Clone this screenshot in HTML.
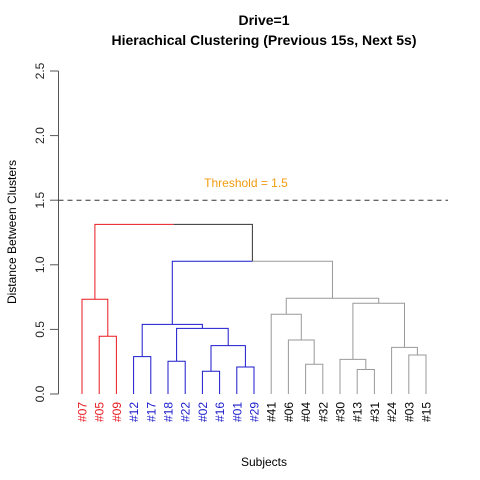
<!DOCTYPE html>
<html><head><meta charset="utf-8"><style>
body{margin:0;background:#fff}
svg{display:block;font-family:"Liberation Sans",Arial,sans-serif}
</style></head><body>
<svg id="chart" width="480" height="480" viewBox="0 0 480 480">
<text x="264" y="25" text-anchor="middle" font-size="14" font-weight="bold">Drive=1</text>
<text x="264" y="45" text-anchor="middle" font-size="14" font-weight="bold">Hierachical Clustering (Previous 15s, Next 5s)</text>
<text x="264" y="466" text-anchor="middle" font-size="12">Subjects</text>
<text transform="translate(16,232) rotate(-90)" text-anchor="middle" font-size="12">Distance Between Clusters</text>
<g id="yaxis"></g>
<g id="tree"></g>
<g id="labels"></g>
<g id="thresh"></g>
</svg>
<script>
const leaves = ["#07","#05","#09","#12","#17","#18","#22","#02","#16","#01","#29","#41","#06","#04","#32","#30","#13","#31","#24","#03","#15"];
const leafCluster = [0,0,0,1,1,1,1,1,1,1,1,2,2,2,2,2,2,2,2,2,2];
const clusterColors = ["#e8191f","#1a1acc","#999999"];
// merges: negative = leaf index (-(i+1)), positive = prior merge number (1-based)
const mergeLeft  = [-2,-1,-4,-6,-8,-10,5,4,3,-14,-13,-12,-17,-16,-20,-19,14,12,9,2];
const mergeRight = [-3, 1,-5,-7,-9,-11,6,7,8,-15, 10, 11,-18, 13,-21, 15,16,17,18,19];
const mergeHeights=[0.447,0.733,0.289,0.253,0.176,0.209,0.374,0.508,0.539,0.230,0.418,0.617,0.190,0.268,0.302,0.361,0.702,0.741,1.027,1.313];
const yTicks=[0,0.5,1,1.5,2,2.5];
const threshold=1.5;

const NS="http://www.w3.org/2000/svg";
const x0=82, dx=17.2, yBase=394, yPer=129.2;
const xS=i=>x0+i*dx, yS=v=>yBase-v*yPer;
function mk(tag,attrs,parent){const e=document.createElementNS(NS,tag);for(const k in attrs)e.setAttribute(k,attrs[k]);parent.appendChild(e);return e;}

const yax=document.getElementById('yaxis');
const al=mk('line',{x1:58.5,x2:58.5,y1:yS(0),y2:yS(2.5),stroke:'#555'},yax);


yTicks.forEach(t=>{
  const tk=mk('line',{x1:50,x2:58.5,y1:yS(t),y2:yS(t),stroke:'#555'},yax);
  
  
  const tx=mk('text',{transform:`translate(44,${yS(t)}) rotate(-90)`,'text-anchor':'middle','font-size':12,fill:'#222'},yax);
  tx.textContent=t.toFixed(1);
  
  
});

const nodes=[];
function info(ref){
  if(ref<0){const i=-ref-1;return {x:xS(i),h:0,cl:leafCluster[i]};}
  return nodes[ref-1];
}
const tree=document.getElementById('tree');
mergeHeights.forEach((h,m)=>{
  const L=info(mergeLeft[m]),R=info(mergeRight[m]);
  const mid=(L.x+R.x)/2;
  const cl=(L.cl===R.cl)?L.cl:-1;
  nodes.push({x:mid,h:h,cl:cl});
  [[L,L.x],[R,R.x]].forEach(([c,cx])=>{
    const col=c.cl>=0?clusterColors[c.cl]:'#333';
    const p=mk('polyline',{points:`${cx},${yS(c.h)} ${cx},${yS(h)} ${mid},${yS(h)}`,fill:'none',stroke:col,'stroke-width':1},tree);
    
    
  });
});

const lab=document.getElementById('labels');
leaves.forEach((l,i)=>{
  const t=mk('text',{transform:`translate(${xS(i)+4.5},402) rotate(-90)`,'text-anchor':'end','font-size':12,fill:clusterColors[leafCluster[i]]==='#999999'?'#000':clusterColors[leafCluster[i]]},lab);
  t.textContent=l;
  
  
});

const th=document.getElementById('thresh');
const tl=mk('line',{x1:58.5,x2:448,y1:yS(threshold),y2:yS(threshold),stroke:'#333','stroke-dasharray':'5,4'},th);


const tt=mk('text',{x:246,y:yS(threshold)-13,'text-anchor':'middle','font-size':12,fill:'#f29b10'},th);
tt.textContent='Threshold = '+threshold;


</script>
</body></html>
